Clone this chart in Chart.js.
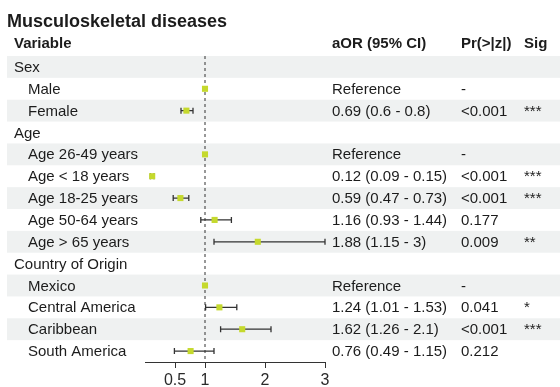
<!DOCTYPE html>
<html>
<head>
	<title>Musculoskeletal diseases</title>
	<script src="https://cdn.jsdelivr.net/npm/chart.js@4"></script>
	<style>
		html, body { margin: 0; padding: 0; background: #fff; }
		#wrap { width: 560px; height: 387px; }
	</style>
</head>
<body>
	<div id="wrap">
		<canvas id="chart"></canvas>
	</div>

	<script type="text/javascript">

		var rowLabels = ['Sex', 'Male', 'Female', 'Age', 'Age 26-49 years', 'Age < 18 years', 'Age 18-25 years', 'Age 50-64 years', 'Age > 65 years', 'Country of Origin', 'Mexico', 'Central America', 'Caribbean', 'South America'];
		var isGroup = [true, false, false, true, false, false, false, false, false, true, false, false, false, false];
		var estimates = [null, 1, 0.69, null, 1, 0.12, 0.59, 1.16, 1.88, null, 1, 1.24, 1.62, 0.76];
		var lower = [null, null, 0.6, null, null, 0.09, 0.47, 0.93, 1.15, null, null, 1.01, 1.26, 0.49];
		var upper = [null, null, 0.8, null, null, 0.15, 0.73, 1.44, 3, null, null, 1.53, 2.1, 1.15];
		var aorText = ['', 'Reference', '0.69 (0.6 - 0.8)', '', 'Reference', '0.12 (0.09 - 0.15)', '0.59 (0.47 - 0.73)', '1.16 (0.93 - 1.44)', '1.88 (1.15 - 3)', '', 'Reference', '1.24 (1.01 - 1.53)', '1.62 (1.26 - 2.1)', '0.76 (0.49 - 1.15)'];
		var pText = ['', '-', '<0.001', '', '-', '<0.001', '<0.001', '0.177', '0.009', '', '-', '0.041', '<0.001', '0.212'];
		var sigText = ['', '', '***', '', '', '***', '***', '', '**', '', '', '*', '***', ''];
		var xTicks = [0.5, 1, 2, 3];

		var FONT = "'Liberation Sans', Arial, Helvetica, sans-serif";
		var TEXT = '#1c1c1c';

		var points = [];
		for (var i = 0; i < estimates.length; i++) {
			if (estimates[i] !== null) points.push({ x: estimates[i], y: i });
		}

		// zebra stripes, error bars, reference line and the table text
		var forestPlugin = {
			id: 'forest',
			beforeDatasetsDraw: function(chart) {
				var ctx = chart.ctx, xs = chart.scales.x, ys = chart.scales.y, area = chart.chartArea;
				ctx.save();
				// stripes
				ctx.fillStyle = '#eff1f1';
				for (var i = 0; i < rowLabels.length; i += 2) {
					var top = ys.getPixelForValue(i - 0.5);
					var bot = ys.getPixelForValue(i + 0.5);
					ctx.fillRect(7, top, chart.width - 7, bot - top);
				}
				// reference line at 1
				var x1 = xs.getPixelForValue(1);
				ctx.strokeStyle = '#333';
				ctx.lineWidth = 1;
				ctx.setLineDash([3, 3]);
				ctx.beginPath();
				ctx.moveTo(x1, area.top);
				ctx.lineTo(x1, area.bottom);
				ctx.stroke();
				ctx.setLineDash([]);
				// error bars
				ctx.strokeStyle = '#333';
				ctx.lineWidth = 1.3;
				for (var j = 0; j < rowLabels.length; j++) {
					if (lower[j] === null) continue;
					var y = ys.getPixelForValue(j);
					var a = xs.getPixelForValue(lower[j]);
					var b = xs.getPixelForValue(upper[j]);
					ctx.beginPath();
					ctx.moveTo(a, y); ctx.lineTo(b, y);
					ctx.moveTo(a, y - 3); ctx.lineTo(a, y + 3);
					ctx.moveTo(b, y - 3); ctx.lineTo(b, y + 3);
					ctx.stroke();
				}
				ctx.restore();
			},
			afterDraw: function(chart) {
				var ctx = chart.ctx, ys = chart.scales.y;
				ctx.save();
				ctx.fillStyle = TEXT;
				ctx.textBaseline = 'alphabetic';
				ctx.textAlign = 'left';
				ctx.font = 'bold 18px ' + FONT;
				ctx.fillText('Musculoskeletal diseases', 7, 27);
				ctx.font = 'bold 15px ' + FONT;
				ctx.fillText('Variable', 14, 48);
				ctx.fillText('aOR (95% CI)', 332, 48);
				ctx.fillText('Pr(>|z|)', 461, 48);
				ctx.fillText('Sig', 524, 48);
				ctx.font = '15px ' + FONT;
				ctx.textBaseline = 'middle';
				for (var i = 0; i < rowLabels.length; i++) {
					var y = ys.getPixelForValue(i) + 1;
					ctx.fillText(rowLabels[i], isGroup[i] ? 14 : 28, y);
					ctx.fillText(aorText[i], 332, y);
					ctx.fillText(pText[i], 461, y);
					ctx.fillText(sigText[i], 524, y);
				}
				ctx.restore();
			}
		};

		var config = {
			type: 'scatter',
			data: {
				datasets: [{
					data: points,
					pointStyle: 'rect',
					pointRadius: 4.3,
					pointHoverRadius: 4.3,
					backgroundColor: '#c5d92d',
					borderColor: '#c5d92d',
					borderWidth: 0
				}]
			},
			options: {
				responsive: true,
				maintainAspectRatio: false,
				animation: false,
				layout: {
					padding: { left: 145, right: 235, top: 56, bottom: 0 }
				},
				plugins: {
					legend: { display: false },
					tooltip: { enabled: false }
				},
				scales: {
					x: {
						type: 'linear',
						min: 0,
						max: 3,
						afterBuildTicks: function(axis) {
							axis.ticks = xTicks.map(function(v) { return { value: v }; });
						},
						afterFit: function(axis) {
							axis.height = 25;
						},
						grid: {
							display: true,
							drawOnChartArea: false,
							drawTicks: true,
							tickLength: 6,
							color: '#333'
						},
						border: { display: true, color: '#333', width: 1 },
						ticks: {
							color: '#2a2a2a',
							padding: 3,
							maxRotation: 0,
							font: { family: FONT, size: 16 }
						}
					},
					y: {
						type: 'linear',
						display: false,
						reverse: true,
						min: -0.5,
						max: 13.5
					}
				}
			},
			plugins: [forestPlugin]
		};

		var ctx = document.getElementById('chart').getContext('2d');
		var chart = new Chart(ctx, config);

	</script>
</body>
</html>
